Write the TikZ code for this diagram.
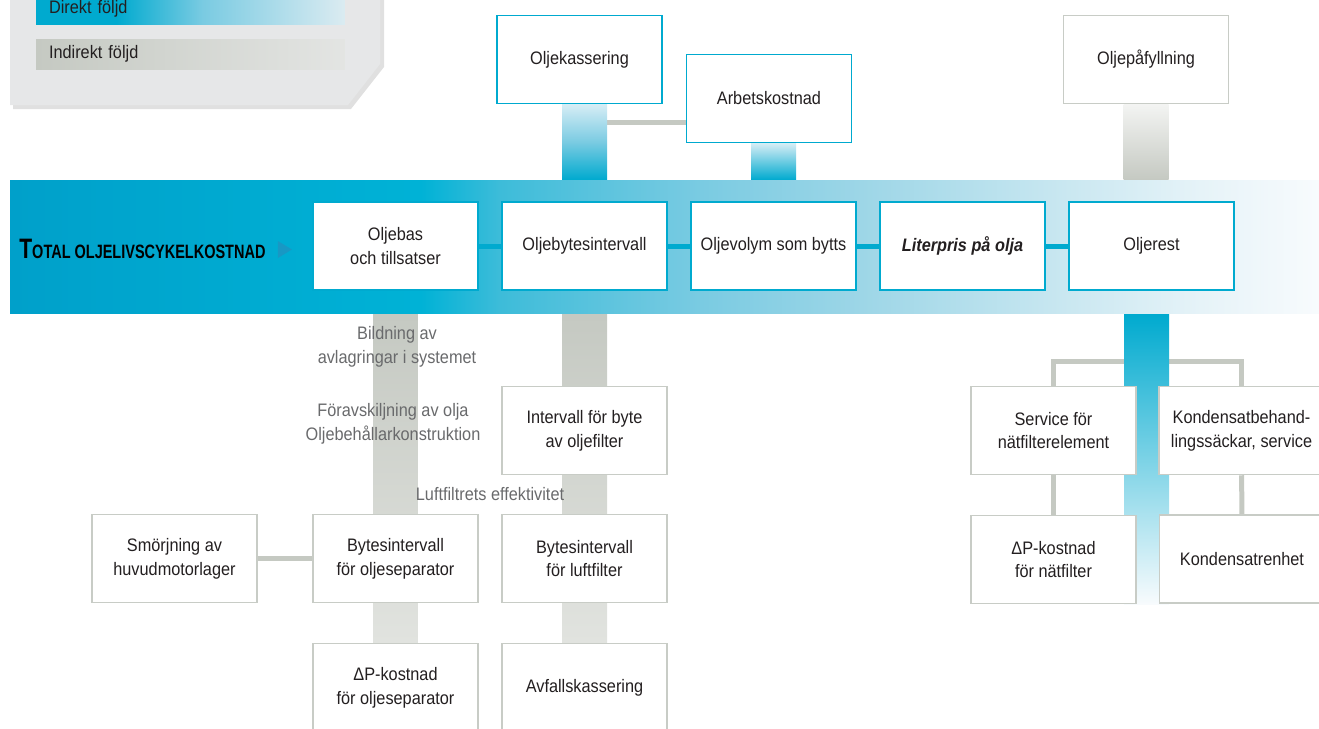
\documentclass[tikz,border=0pt]{standalone}
\usepackage{fontspec}
\setmainfont{Liberation Sans}[FakeStretch=0.9]
\newfontfamily\titlefont{Liberation Sans}[FakeStretch=0.75]
\usetikzlibrary{backgrounds}
\definecolor{bandA}{RGB}{0,160,202}
\definecolor{bandB}{RGB}{0,178,214}
\definecolor{bandC}{RGB}{61,188,217}
\definecolor{bandD}{RGB}{122,203,226}
\definecolor{bandE}{RGB}{157,214,231}
\definecolor{bandF}{RGB}{198,230,240}
\definecolor{bandG}{RGB}{230,243,248}
\definecolor{bandH}{RGB}{248,251,253}
\definecolor{cyanS}{RGB}{0,170,207}
\definecolor{cyanL}{RGB}{214,237,245}
\definecolor{grayS}{RGB}{197,201,194}
\definecolor{grayL}{RGB}{225,227,223}
\definecolor{grayB}{RGB}{200,204,198}
\definecolor{legbg}{RGB}{230,231,232}
\definecolor{txt}{RGB}{35,31,32}
\definecolor{note}{RGB}{105,106,108}
\definecolor{tric}{RGB}{24,152,196}
\pgfdeclarehorizontalshading{bandshade}{100bp}{color(0bp)=(bandA); color(25bp)=(bandA); color(40.7bp)=(bandB); color(43.7bp)=(bandC); color(51.4bp)=(bandD); color(57.5bp)=(bandE); color(64.7bp)=(bandF); color(70.5bp)=(bandG); color(75bp)=(bandH); color(100bp)=(bandH)}
\pgfdeclarehorizontalshading{legshade}{100bp}{color(0bp)=(cyanS); color(25bp)=(cyanS); color(38bp)=(cyanS); color(52bp)=(bandD); color(75bp)=(cyanL!70!legbg); color(100bp)=(cyanL!70!legbg)}

\begin{document}
\begin{tikzpicture}[x=0.02cm,y=-0.02cm,
  box/.style={draw=cyanS,line width=0.03cm,fill=white,minimum width=3.3cm,minimum height=1.76cm,
    align=center,inner sep=0pt,text=txt,font=\fontsize{10.3}{13.6}\selectfont},
  gbox/.style={box,draw=grayB},
  notetext/.style={align=center,inner sep=0pt,text=note,font=\fontsize{10.3}{13.6}\selectfont},
  legbar/.style={minimum width=6.18cm,minimum height=0.6cm,text width=5.66cm,inner xsep=0.26cm,
    inner ysep=0pt,align=left,text=txt,font=\fontsize{10.3}{12}\selectfont},
  cline/.style={cyanS,line width=0.1cm},
  gline/.style={grayS,line width=0.1cm}]
\useasboundingbox (0,0) rectangle (1319,728);

\node[shading=bandshade,minimum width=26.18cm,minimum height=2.68cm,inner sep=0pt] (band) at (664.5,247) {};
\node[anchor=west,inner sep=0pt,text=black,font=\titlefont\bfseries] (title) at (19,249)
  {\fontsize{16}{16}\selectfont T\fontsize{11}{12}\selectfont OTAL OLJELIVSCYKELKOSTNAD};
\fill[tric] (title.east) ++(12,-8) -- ++(14,8.5) -- ++(-14,8.5) -- cycle;

\node[legbar,shading=legshade] (direkt) at (190.5,9) {Direkt följd};
\node[legbar,left color=grayS,right color=grayL!60!legbg] (indirekt) at (190.5,54) {Indirekt följd};

\node[box] (bas) at (395.5,246) {Oljebas\\och tillsatser};
\node[box] (byte) at (584.5,246) {Oljebytesintervall};
\node[box] (vol) at (773.5,246) {Oljevolym som bytts};
\node[box] (lit) at (962.5,246) {\bfseries\itshape Literpris på olja};
\node[box] (rest) at (1151.5,246) {Oljerest};

\node[box] (kass) at (579.5,59.5) {Oljekassering};
\node[box] (arb) at (769,98.5) {Arbetskostnad};
\node[gbox] (pafyl) at (1146,59.5) {Oljepåfyllning};

\node[gbox] (ofilt) at (584.5,430.5) {Intervall för byte\\av oljefilter};
\node[gbox] (smor) at (174.5,558.5) {Smörjning av\\huvudmotorlager};
\node[gbox] (bsep) at (395.5,558.5) {Bytesintervall\\för oljeseparator};
\node[gbox] (bluft) at (584.5,558.5) {Bytesintervall\\för luftfilter};
\node[gbox] (dpsep) at (395.5,687.5) {ΔP-kostnad\\för oljeseparator};
\node[gbox] (avf) at (584.5,687.5) {Avfallskassering};

\node[gbox] (serv) at (1053.5,430.5) {Service för\\nätfilterelement};
\node[gbox] (kond) at (1241.5,430.5) {Kondensatbehand-\\lingssäckar, service};
\node[gbox] (dpn) at (1053.5,559.5) {ΔP-kostnad\\för nätfilter};
\node[gbox] (kenh) at (1242,559) {Kondensatrenhet};

\node[notetext] (bild) at (397,347) {Bildning av\\avlagringar i systemet};
\node[notetext] (forav) at (393,424) {Föravskiljning av olja\\Oljebehållarkonstruktion};
\node[notetext] (luft) at (490,494) {Luftfiltrets effektivitet};

\foreach \a/\b in {bas/byte,byte/vol,vol/lit,lit/rest}
  \draw[cline] (\a) -- (\b);

\begin{scope}[on background layer]
\fill[black,opacity=0.12] (13,-10) -- (384,-10) -- (384,67) -- (351,109) -- (13,109) -- cycle;
\fill[legbg] (10,-10) -- (380,-10) -- (380,64) -- (348,105) -- (10,105) -- cycle;

\draw[gline] ([yshift=-0.47cm]arb.west) -- ([yshift=-0.47cm]arb.west -| byte.north);
\draw[gline] (smor) -- (bsep);
\draw[gline] (serv.north) -- ++(0,-24) -| (kond.north);
\draw[gline] (serv) -- (dpn);
\draw[gline] (kond) -- (kenh);

\shade[top color=cyanL,bottom color=cyanS,middle color=bandD] ([xshift=-0.45cm]byte.north |- kass.south) rectangle ([xshift=0.45cm]byte.north |- band.north);
\shade[top color=cyanL,bottom color=cyanS] ([xshift=-0.45cm]vol.north |- arb.south) rectangle ([xshift=0.45cm]vol.north |- band.north);
\shade[top color=grayL!40!white,bottom color=grayS] ([xshift=-0.45cm]pafyl.south) rectangle ([xshift=0.45cm]pafyl.south |- band.north);

\shade[top color=grayS,bottom color=grayL] ([xshift=-0.45cm]bas.south |- band.south) rectangle ([xshift=0.45cm]dpsep.north);
\shade[top color=grayS,bottom color=grayL] ([xshift=-0.45cm]byte.south |- band.south) rectangle ([xshift=0.45cm]avf.north);
\shade[top color=cyanS,middle color=bandC!80!bandD,bottom color=bandH] ([xshift=-0.55cm]rest.south |- band.south) rectangle ([xshift=0.35cm]rest.south |- dpn.south);
\end{scope}
\end{tikzpicture}
\end{document}
